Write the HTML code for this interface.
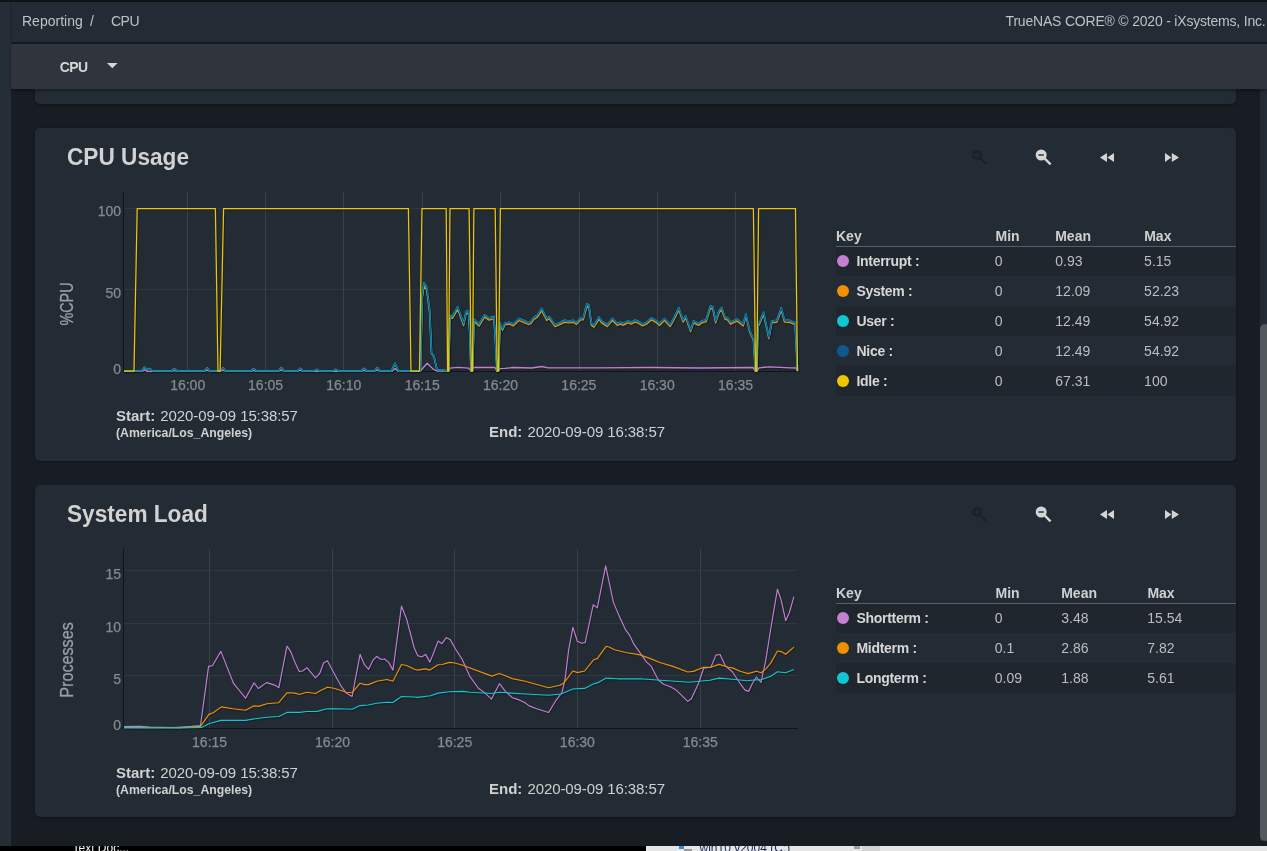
<!DOCTYPE html>
<html><head><meta charset="utf-8"><title>Reporting / CPU</title>
<style>
*{box-sizing:border-box;margin:0;padding:0}
html,body{width:1267px;height:851px;overflow:hidden;background:#181d24;font-family:"Liberation Sans",sans-serif;position:relative}
.abs{position:absolute}
#topk{position:absolute;left:0;top:0;width:1267px;height:2px;background:#111214}
#side{position:absolute;left:0;top:2px;width:10.5px;height:849px;background:#252e36}
#sidel{position:absolute;left:10px;top:2px;width:2px;height:40px;background:#1f262e;z-index:3}
#hdr{position:absolute;left:11px;top:2px;width:1256px;height:40px;background:#232b34}
#hdrl{position:absolute;left:11px;top:42px;width:1256px;height:2px;background:#141a21}
#tb{position:absolute;left:11px;top:44px;width:1256px;height:45px;background:#30343c;box-shadow:0 2px 3px rgba(0,0,0,.35);z-index:2}
.bc{position:absolute;top:10.6px;font-size:14px;color:#bfc1c4;white-space:nowrap}
.card{position:absolute;left:35px;width:1201px;background:#232c35;border-radius:5px;box-shadow:0 1px 3px rgba(0,0,0,.35)}
.title{position:absolute;left:67.4px;font-size:23.5px;transform:scaleX(0.963);transform-origin:0 0;font-weight:bold;color:#d2d2d2;white-space:nowrap}
.yl{position:absolute;font-size:14px;color:#868a8f;-webkit-text-stroke:0.25px #868a8f;text-align:right;white-space:nowrap;line-height:16px}
.xl{position:absolute;font-size:14px;color:#868a8f;-webkit-text-stroke:0.25px #868a8f;width:60px;text-align:center;white-space:nowrap;line-height:16px}
.yax{position:absolute;left:66.8px;width:0;height:0}
.yax span{position:absolute;left:0;top:0;font-size:17.5px;line-height:18px;color:#9a9ea3;-webkit-text-stroke:0.3px #9a9ea3;white-space:nowrap;transform:translate(-50%,-50%) rotate(-90deg) scaleX(0.925)}
.se{position:absolute;font-size:15px;color:#d0d0d0;white-space:nowrap;line-height:18px}
.se b{margin-right:1px}
.dt{letter-spacing:-0.1px}
.tz{position:absolute;font-size:12.25px;font-weight:bold;color:#d0d0d0;white-space:nowrap;line-height:16px}
.tbl{position:absolute;left:836px;width:400px;height:200px}
.th{position:absolute;top:10px;font-size:14px;font-weight:bold;color:#d0d0d0;line-height:16px}
.hline{position:absolute;left:0;top:28px;width:400px;height:1px;background:#575e66;z-index:1}
.row{position:absolute;left:0;width:400px;height:30px}
.dot{position:absolute;left:1px;top:8.5px;width:12px;height:12px;border-radius:50%}
.rn{position:absolute;left:20.5px;top:6.6px;letter-spacing:-0.3px;font-size:14px;font-weight:bold;color:#d6d6d6;line-height:16px;white-space:nowrap}
.v{position:absolute;top:7.1px;margin-left:-0.7px;font-size:14px;color:#bdbdbd;line-height:16px;white-space:nowrap}
#sbt{position:absolute;left:1260px;top:89px;width:7px;height:752px;background:#232b34}
#sbth{position:absolute;left:1260px;top:324px;width:10px;height:517px;background:#54595e;border-radius:5px}
#task{position:absolute;left:0;top:846px;width:1267px;height:5px;background:#000;overflow:hidden}
</style></head>
<body>
<div id="topk"></div>
<div id="side"></div>
<div id="sidel"></div>
<div id="hdr">
 <div class="bc" style="left:11px">Reporting</div><div class="bc" style="left:79px">/</div><div class="bc" style="left:100px;letter-spacing:-0.5px">CPU</div>
 <div class="bc" style="right:1.5px;letter-spacing:-0.2px">TrueNAS CORE® © 2020 - iXsystems, Inc.</div>
</div>
<div id="hdrl"></div>
<div id="tb">
 <div style="position:absolute;left:48.8px;top:14.7px;font-size:14px;font-weight:bold;color:#d6d6d6;letter-spacing:-0.6px">CPU</div>
 <svg style="position:absolute;left:96px;top:19px" width="11" height="6"><polygon points="0,0 10.6,0 5.3,5.3" fill="#d6d6d6"/></svg>
</div>
<div class="card" style="top:60px;height:44px"></div>
<div class="card" style="top:128px;height:333px"></div>
<div class="card" style="top:485px;height:332px"></div>
<svg class="chart" width="1267" height="851" viewBox="0 0 1267 851" style="position:absolute;left:0;top:0">
<line x1="124" y1="208.5" x2="797.5" y2="208.5" stroke="#2f373f" stroke-width="1"/>
<line x1="124" y1="289.5" x2="797.5" y2="289.5" stroke="#2f373f" stroke-width="1"/>
<line x1="187.5" y1="192" x2="187.5" y2="371.5" stroke="#3a4149" stroke-width="1"/>
<line x1="265.5" y1="192" x2="265.5" y2="371.5" stroke="#3a4149" stroke-width="1"/>
<line x1="343.5" y1="192" x2="343.5" y2="371.5" stroke="#3a4149" stroke-width="1"/>
<line x1="422.5" y1="192" x2="422.5" y2="371.5" stroke="#3a4149" stroke-width="1"/>
<line x1="500.5" y1="192" x2="500.5" y2="371.5" stroke="#3a4149" stroke-width="1"/>
<line x1="579.5" y1="192" x2="579.5" y2="371.5" stroke="#3a4149" stroke-width="1"/>
<line x1="657.5" y1="192" x2="657.5" y2="371.5" stroke="#3a4149" stroke-width="1"/>
<line x1="735.5" y1="192" x2="735.5" y2="371.5" stroke="#3a4149" stroke-width="1"/>
<line x1="123.5" y1="192" x2="123.5" y2="372" stroke="#101317" stroke-width="1"/>
<line x1="123" y1="371.5" x2="797.5" y2="371.5" stroke="#101317" stroke-width="1"/>
<polyline fill="none" stroke="#141a24" stroke-opacity="0.6" stroke-width="1.9" stroke-linejoin="round" transform="translate(0.8,1.1)" points="124.0,371.3 141.6,371.3 144.6,369.9 147.6,371.3 171.3,371.3 174.3,370.4 177.3,371.3 204.1,371.3 207.1,370.1 210.1,371.3 219.9,371.3 222.9,370.1 225.9,371.3 250.8,371.3 253.8,370.4 256.8,371.3 278.4,371.3 281.4,370.0 284.4,371.3 297.3,371.3 300.3,370.2 303.3,371.3 361.0,371.3 364.0,370.3 367.0,371.3 374.3,371.3 377.3,370.0 380.3,371.3 392.0,371.3 395.0,368.5 398.0,371.3 420.4,371.0 427.2,363.2 433.4,369.4 437.0,371.0 448.6,371.0 450.0,368.1 458.0,367.3 468.6,368.1 471.0,371.2 473.5,367.5 495.0,367.5 497.0,371.2 500.0,368.7 505.0,368.4 512.6,367.5 531.6,368.0 541.7,366.5 548.0,367.8 600.0,367.8 650.0,367.5 700.0,368.0 753.0,367.5 755.5,371.0 757.0,371.0 759.0,367.8 770.0,366.8 790.0,367.8 796.5,368.0 797.5,371.0"/>
<polyline fill="none" stroke="#141a24" stroke-opacity="0.6" stroke-width="1.9500000000000002" stroke-linejoin="round" transform="translate(0.8,1.1)" points="124.0,371.0 141.6,371.0 144.6,367.5 147.2,369.7 149.7,368.7 152.7,371.0 171.3,371.0 174.3,368.9 177.3,371.0 204.1,371.0 207.1,368.1 210.1,371.0 219.9,371.0 222.9,368.1 225.9,371.0 250.8,371.0 253.8,368.8 256.8,371.0 278.4,371.0 281.4,367.8 284.4,371.0 297.3,371.0 300.3,368.4 303.3,371.0 313.7,371.0 316.7,369.6 319.7,371.0 332.7,371.0 335.7,369.6 338.7,371.0 361.0,371.0 364.0,368.6 367.0,371.0 374.3,371.0 377.3,367.7 380.3,371.0 391.5,371.0 395.0,363.6 398.5,371.0 420.4,371.0 422.3,297.6 424.1,286.4 426.6,289.9 428.5,303.6 429.7,313.0 431.5,353.4 434.0,357.0 437.1,370.0 442.0,369.9 446.4,370.6 447.6,371.0 448.6,371.0 450.0,317.8 452.5,318.4 457.8,309.4 463.6,325.5 466.1,313.7 468.6,313.7 469.8,333.2 471.0,371.2 472.5,371.0 474.1,321.4 479.1,326.1 484.6,317.1 489.0,320.1 493.9,318.8 495.5,341.2 497.0,371.2 498.5,371.0 500.0,324.8 502.5,330.2 505.0,324.8 509.5,324.2 513.3,326.0 519.0,320.5 523.4,322.3 528.4,324.5 531.0,323.6 534.0,319.3 537.2,317.5 541.7,310.8 546.7,320.5 549.2,318.7 555.0,326.6 559.3,324.8 564.4,322.3 569.4,322.9 573.2,322.3 576.4,324.5 580.8,319.9 583.3,319.9 586.9,306.6 589.0,307.8 591.5,325.4 594.0,327.2 599.1,319.3 601.6,322.9 607.3,326.6 612.4,320.5 617.4,325.4 620.6,324.2 623.1,325.4 628.2,322.9 631.3,324.2 635.1,322.1 637.6,322.9 642.7,326.0 646.5,324.2 651.5,319.9 656.6,322.9 659.5,325.4 664.5,320.5 670.2,326.6 674.6,318.7 678.8,310.2 683.1,322.1 685.6,318.1 690.7,331.5 693.6,322.9 698.6,325.4 701.8,322.9 706.2,321.8 710.4,308.4 712.9,309.5 715.7,322.9 719.2,312.6 721.7,310.2 725.1,319.3 727.3,319.9 730.8,324.2 737.1,321.1 743.2,326.0 746.0,316.3 749.7,332.0 753.5,340.5 755.4,370.9 756.8,371.0 758.0,326.6 759.8,323.6 763.6,314.4 768.9,338.7 771.8,322.9 776.9,322.3 781.3,310.4 784.5,322.1 790.2,322.6 795.2,324.7 797.5,370.9"/>
<polyline fill="none" stroke="#141a24" stroke-opacity="0.6" stroke-width="2.35" stroke-linejoin="round" transform="translate(0.8,1.1)" points="124.0,371.0 141.6,371.0 144.6,367.4 147.2,369.6 149.7,368.6 152.7,371.0 171.3,371.0 174.3,368.8 177.3,371.0 204.1,371.0 207.1,368.0 210.1,371.0 219.9,371.0 222.9,368.0 225.9,371.0 250.8,371.0 253.8,368.7 256.8,371.0 278.4,371.0 281.4,367.7 284.4,371.0 297.3,371.0 300.3,368.3 303.3,371.0 313.7,371.0 316.7,369.5 319.7,371.0 332.7,371.0 335.7,369.5 338.7,371.0 361.0,371.0 364.0,368.5 367.0,371.0 374.3,371.0 377.3,367.6 380.3,371.0 391.5,371.0 395.0,363.3 398.5,371.0 420.4,371.0 422.3,294.7 424.1,283.0 426.6,286.7 428.5,300.9 429.7,310.7 431.5,352.7 434.0,356.4 437.1,370.0 442.0,369.8 446.4,370.6 447.6,371.0 448.6,371.0 450.0,315.7 452.5,316.3 457.8,307.0 463.6,323.7 466.1,311.4 468.6,311.4 469.8,331.7 471.0,371.2 472.5,371.0 474.1,319.4 479.1,324.3 484.6,315.0 489.0,318.1 493.9,316.7 495.5,340.0 497.0,371.2 498.5,371.0 500.0,323.0 502.5,328.6 505.0,323.0 509.5,322.3 513.3,324.2 519.0,318.5 523.4,320.4 528.4,322.7 531.0,321.7 534.0,317.2 537.2,315.4 541.7,308.4 546.7,318.5 549.2,316.6 555.0,324.8 559.3,323.0 564.4,320.4 569.4,321.0 573.2,320.4 576.4,322.7 580.8,317.9 583.3,317.9 586.9,304.0 589.0,305.3 591.5,323.6 594.0,325.5 599.1,317.2 601.6,321.0 607.3,324.8 612.4,318.5 617.4,323.6 620.6,322.3 623.1,323.6 628.2,321.0 631.3,322.3 635.1,320.2 637.6,321.0 642.7,324.2 646.5,322.3 651.5,317.9 656.6,321.0 659.5,323.6 664.5,318.5 670.2,324.8 674.6,316.6 678.8,307.8 683.1,320.2 685.6,316.0 690.7,329.9 693.6,321.0 698.6,323.6 701.8,321.0 706.2,319.8 710.4,305.9 712.9,307.1 715.7,321.0 719.2,310.3 721.7,307.8 725.1,317.2 727.3,317.9 730.8,322.3 737.1,319.1 743.2,324.2 746.0,314.1 749.7,330.5 753.5,339.3 755.4,370.9 756.8,371.0 758.0,324.8 759.8,321.7 763.6,312.2 768.9,337.4 771.8,321.0 776.9,320.4 781.3,308.0 784.5,320.2 790.2,320.7 795.2,322.9 797.5,370.9"/>
<polyline fill="none" stroke="#141a24" stroke-opacity="0.6" stroke-width="1.75" stroke-linejoin="round" transform="translate(0.8,1.1)" points="124.0,371.0 141.6,371.0 144.6,367.4 147.2,369.6 149.7,368.6 152.7,371.0 171.3,371.0 174.3,368.8 177.3,371.0 204.1,371.0 207.1,368.0 210.1,371.0 219.9,371.0 222.9,368.0 225.9,371.0 250.8,371.0 253.8,368.7 256.8,371.0 278.4,371.0 281.4,367.7 284.4,371.0 297.3,371.0 300.3,368.3 303.3,371.0 313.7,371.0 316.7,369.5 319.7,371.0 332.7,371.0 335.7,369.5 338.7,371.0 361.0,371.0 364.0,368.5 367.0,371.0 374.3,371.0 377.3,367.6 380.3,371.0 391.5,371.0 395.0,363.3 398.5,371.0 420.4,371.0 422.3,294.7 424.1,283.0 426.6,286.7 428.5,300.9 429.7,310.7 431.5,352.7 434.0,356.4 437.1,370.0 442.0,369.8 446.4,370.6 447.6,371.0 448.6,371.0 450.0,315.7 452.5,316.3 457.8,307.0 463.6,323.7 466.1,311.4 468.6,311.4 469.8,331.7 471.0,371.2 472.5,371.0 474.1,319.4 479.1,324.3 484.6,315.0 489.0,318.1 493.9,316.7 495.5,340.0 497.0,371.2 498.5,371.0 500.0,323.0 502.5,328.6 505.0,323.0 509.5,322.3 513.3,324.2 519.0,318.5 523.4,320.4 528.4,322.7 531.0,321.7 534.0,317.2 537.2,315.4 541.7,308.4 546.7,318.5 549.2,316.6 555.0,324.8 559.3,323.0 564.4,320.4 569.4,321.0 573.2,320.4 576.4,322.7 580.8,317.9 583.3,317.9 586.9,304.0 589.0,305.3 591.5,323.6 594.0,325.5 599.1,317.2 601.6,321.0 607.3,324.8 612.4,318.5 617.4,323.6 620.6,322.3 623.1,323.6 628.2,321.0 631.3,322.3 635.1,320.2 637.6,321.0 642.7,324.2 646.5,322.3 651.5,317.9 656.6,321.0 659.5,323.6 664.5,318.5 670.2,324.8 674.6,316.6 678.8,307.8 683.1,320.2 685.6,316.0 690.7,329.9 693.6,321.0 698.6,323.6 701.8,321.0 706.2,319.8 710.4,305.9 712.9,307.1 715.7,321.0 719.2,310.3 721.7,307.8 725.1,317.2 727.3,317.9 730.8,322.3 737.1,319.1 743.2,324.2 746.0,314.1 749.7,330.5 753.5,339.3 755.4,370.9 756.8,371.0 758.0,324.8 759.8,321.7 763.6,312.2 768.9,337.4 771.8,321.0 776.9,320.4 781.3,308.0 784.5,320.2 790.2,320.7 795.2,322.9 797.5,370.9"/>
<polyline fill="none" stroke="#141a24" stroke-opacity="0.6" stroke-width="1.85" stroke-linejoin="round" transform="translate(0.8,1.1)" points="124.0,371.2 134.0,371.2 137.2,208.5 215.4,208.5 218.0,371.2 220.1,371.2 223.6,208.5 408.4,208.5 411.0,371.2 419.5,371.2 422.0,208.5 446.2,208.5 447.6,371.2 448.6,371.2 450.0,208.5 469.1,208.5 471.3,371.2 472.5,371.2 473.9,208.5 495.2,208.5 497.2,371.2 498.5,371.2 500.4,208.5 753.4,208.5 755.6,371.2 756.8,371.2 758.6,208.5 795.5,208.5 797.5,371.2"/>
<polyline fill="none" stroke="#c47fcf" stroke-width="1.3" stroke-linejoin="round" points="124.0,371.3 141.6,371.3 144.6,369.9 147.6,371.3 171.3,371.3 174.3,370.4 177.3,371.3 204.1,371.3 207.1,370.1 210.1,371.3 219.9,371.3 222.9,370.1 225.9,371.3 250.8,371.3 253.8,370.4 256.8,371.3 278.4,371.3 281.4,370.0 284.4,371.3 297.3,371.3 300.3,370.2 303.3,371.3 361.0,371.3 364.0,370.3 367.0,371.3 374.3,371.3 377.3,370.0 380.3,371.3 392.0,371.3 395.0,368.5 398.0,371.3 420.4,371.0 427.2,363.2 433.4,369.4 437.0,371.0 448.6,371.0 450.0,368.1 458.0,367.3 468.6,368.1 471.0,371.2 473.5,367.5 495.0,367.5 497.0,371.2 500.0,368.7 505.0,368.4 512.6,367.5 531.6,368.0 541.7,366.5 548.0,367.8 600.0,367.8 650.0,367.5 700.0,368.0 753.0,367.5 755.5,371.0 757.0,371.0 759.0,367.8 770.0,366.8 790.0,367.8 796.5,368.0 797.5,371.0"/>
<polyline fill="none" stroke="#ef9000" stroke-width="1.35" stroke-linejoin="round" points="124.0,371.0 141.6,371.0 144.6,367.5 147.2,369.7 149.7,368.7 152.7,371.0 171.3,371.0 174.3,368.9 177.3,371.0 204.1,371.0 207.1,368.1 210.1,371.0 219.9,371.0 222.9,368.1 225.9,371.0 250.8,371.0 253.8,368.8 256.8,371.0 278.4,371.0 281.4,367.8 284.4,371.0 297.3,371.0 300.3,368.4 303.3,371.0 313.7,371.0 316.7,369.6 319.7,371.0 332.7,371.0 335.7,369.6 338.7,371.0 361.0,371.0 364.0,368.6 367.0,371.0 374.3,371.0 377.3,367.7 380.3,371.0 391.5,371.0 395.0,363.6 398.5,371.0 420.4,371.0 422.3,297.6 424.1,286.4 426.6,289.9 428.5,303.6 429.7,313.0 431.5,353.4 434.0,357.0 437.1,370.0 442.0,369.9 446.4,370.6 447.6,371.0 448.6,371.0 450.0,317.8 452.5,318.4 457.8,309.4 463.6,325.5 466.1,313.7 468.6,313.7 469.8,333.2 471.0,371.2 472.5,371.0 474.1,321.4 479.1,326.1 484.6,317.1 489.0,320.1 493.9,318.8 495.5,341.2 497.0,371.2 498.5,371.0 500.0,324.8 502.5,330.2 505.0,324.8 509.5,324.2 513.3,326.0 519.0,320.5 523.4,322.3 528.4,324.5 531.0,323.6 534.0,319.3 537.2,317.5 541.7,310.8 546.7,320.5 549.2,318.7 555.0,326.6 559.3,324.8 564.4,322.3 569.4,322.9 573.2,322.3 576.4,324.5 580.8,319.9 583.3,319.9 586.9,306.6 589.0,307.8 591.5,325.4 594.0,327.2 599.1,319.3 601.6,322.9 607.3,326.6 612.4,320.5 617.4,325.4 620.6,324.2 623.1,325.4 628.2,322.9 631.3,324.2 635.1,322.1 637.6,322.9 642.7,326.0 646.5,324.2 651.5,319.9 656.6,322.9 659.5,325.4 664.5,320.5 670.2,326.6 674.6,318.7 678.8,310.2 683.1,322.1 685.6,318.1 690.7,331.5 693.6,322.9 698.6,325.4 701.8,322.9 706.2,321.8 710.4,308.4 712.9,309.5 715.7,322.9 719.2,312.6 721.7,310.2 725.1,319.3 727.3,319.9 730.8,324.2 737.1,321.1 743.2,326.0 746.0,316.3 749.7,332.0 753.5,340.5 755.4,370.9 756.8,371.0 758.0,326.6 759.8,323.6 763.6,314.4 768.9,338.7 771.8,322.9 776.9,322.3 781.3,310.4 784.5,322.1 790.2,322.6 795.2,324.7 797.5,370.9"/>
<polyline fill="none" stroke="#10c6d2" stroke-width="1.75" stroke-linejoin="round" points="124.0,371.0 141.6,371.0 144.6,367.4 147.2,369.6 149.7,368.6 152.7,371.0 171.3,371.0 174.3,368.8 177.3,371.0 204.1,371.0 207.1,368.0 210.1,371.0 219.9,371.0 222.9,368.0 225.9,371.0 250.8,371.0 253.8,368.7 256.8,371.0 278.4,371.0 281.4,367.7 284.4,371.0 297.3,371.0 300.3,368.3 303.3,371.0 313.7,371.0 316.7,369.5 319.7,371.0 332.7,371.0 335.7,369.5 338.7,371.0 361.0,371.0 364.0,368.5 367.0,371.0 374.3,371.0 377.3,367.6 380.3,371.0 391.5,371.0 395.0,363.3 398.5,371.0 420.4,371.0 422.3,294.7 424.1,283.0 426.6,286.7 428.5,300.9 429.7,310.7 431.5,352.7 434.0,356.4 437.1,370.0 442.0,369.8 446.4,370.6 447.6,371.0 448.6,371.0 450.0,315.7 452.5,316.3 457.8,307.0 463.6,323.7 466.1,311.4 468.6,311.4 469.8,331.7 471.0,371.2 472.5,371.0 474.1,319.4 479.1,324.3 484.6,315.0 489.0,318.1 493.9,316.7 495.5,340.0 497.0,371.2 498.5,371.0 500.0,323.0 502.5,328.6 505.0,323.0 509.5,322.3 513.3,324.2 519.0,318.5 523.4,320.4 528.4,322.7 531.0,321.7 534.0,317.2 537.2,315.4 541.7,308.4 546.7,318.5 549.2,316.6 555.0,324.8 559.3,323.0 564.4,320.4 569.4,321.0 573.2,320.4 576.4,322.7 580.8,317.9 583.3,317.9 586.9,304.0 589.0,305.3 591.5,323.6 594.0,325.5 599.1,317.2 601.6,321.0 607.3,324.8 612.4,318.5 617.4,323.6 620.6,322.3 623.1,323.6 628.2,321.0 631.3,322.3 635.1,320.2 637.6,321.0 642.7,324.2 646.5,322.3 651.5,317.9 656.6,321.0 659.5,323.6 664.5,318.5 670.2,324.8 674.6,316.6 678.8,307.8 683.1,320.2 685.6,316.0 690.7,329.9 693.6,321.0 698.6,323.6 701.8,321.0 706.2,319.8 710.4,305.9 712.9,307.1 715.7,321.0 719.2,310.3 721.7,307.8 725.1,317.2 727.3,317.9 730.8,322.3 737.1,319.1 743.2,324.2 746.0,314.1 749.7,330.5 753.5,339.3 755.4,370.9 756.8,371.0 758.0,324.8 759.8,321.7 763.6,312.2 768.9,337.4 771.8,321.0 776.9,320.4 781.3,308.0 784.5,320.2 790.2,320.7 795.2,322.9 797.5,370.9"/>
<polyline fill="none" stroke="#0e5a8e" stroke-width="1.15" stroke-linejoin="round" points="124.0,371.0 141.6,371.0 144.6,367.4 147.2,369.6 149.7,368.6 152.7,371.0 171.3,371.0 174.3,368.8 177.3,371.0 204.1,371.0 207.1,368.0 210.1,371.0 219.9,371.0 222.9,368.0 225.9,371.0 250.8,371.0 253.8,368.7 256.8,371.0 278.4,371.0 281.4,367.7 284.4,371.0 297.3,371.0 300.3,368.3 303.3,371.0 313.7,371.0 316.7,369.5 319.7,371.0 332.7,371.0 335.7,369.5 338.7,371.0 361.0,371.0 364.0,368.5 367.0,371.0 374.3,371.0 377.3,367.6 380.3,371.0 391.5,371.0 395.0,363.3 398.5,371.0 420.4,371.0 422.3,294.7 424.1,283.0 426.6,286.7 428.5,300.9 429.7,310.7 431.5,352.7 434.0,356.4 437.1,370.0 442.0,369.8 446.4,370.6 447.6,371.0 448.6,371.0 450.0,315.7 452.5,316.3 457.8,307.0 463.6,323.7 466.1,311.4 468.6,311.4 469.8,331.7 471.0,371.2 472.5,371.0 474.1,319.4 479.1,324.3 484.6,315.0 489.0,318.1 493.9,316.7 495.5,340.0 497.0,371.2 498.5,371.0 500.0,323.0 502.5,328.6 505.0,323.0 509.5,322.3 513.3,324.2 519.0,318.5 523.4,320.4 528.4,322.7 531.0,321.7 534.0,317.2 537.2,315.4 541.7,308.4 546.7,318.5 549.2,316.6 555.0,324.8 559.3,323.0 564.4,320.4 569.4,321.0 573.2,320.4 576.4,322.7 580.8,317.9 583.3,317.9 586.9,304.0 589.0,305.3 591.5,323.6 594.0,325.5 599.1,317.2 601.6,321.0 607.3,324.8 612.4,318.5 617.4,323.6 620.6,322.3 623.1,323.6 628.2,321.0 631.3,322.3 635.1,320.2 637.6,321.0 642.7,324.2 646.5,322.3 651.5,317.9 656.6,321.0 659.5,323.6 664.5,318.5 670.2,324.8 674.6,316.6 678.8,307.8 683.1,320.2 685.6,316.0 690.7,329.9 693.6,321.0 698.6,323.6 701.8,321.0 706.2,319.8 710.4,305.9 712.9,307.1 715.7,321.0 719.2,310.3 721.7,307.8 725.1,317.2 727.3,317.9 730.8,322.3 737.1,319.1 743.2,324.2 746.0,314.1 749.7,330.5 753.5,339.3 755.4,370.9 756.8,371.0 758.0,324.8 759.8,321.7 763.6,312.2 768.9,337.4 771.8,321.0 776.9,320.4 781.3,308.0 784.5,320.2 790.2,320.7 795.2,322.9 797.5,370.9"/>
<polyline fill="none" stroke="#efc700" stroke-width="1.25" stroke-linejoin="round" points="124.0,371.2 134.0,371.2 137.2,208.5 215.4,208.5 218.0,371.2 220.1,371.2 223.6,208.5 408.4,208.5 411.0,371.2 419.5,371.2 422.0,208.5 446.2,208.5 447.6,371.2 448.6,371.2 450.0,208.5 469.1,208.5 471.3,371.2 472.5,371.2 473.9,208.5 495.2,208.5 497.2,371.2 498.5,371.2 500.4,208.5 753.4,208.5 755.6,371.2 756.8,371.2 758.6,208.5 795.5,208.5 797.5,371.2"/>
</svg>
<svg class="chart" width="1267" height="851" viewBox="0 0 1267 851" style="position:absolute;left:0;top:0">
<line x1="124" y1="570.5" x2="797.5" y2="570.5" stroke="#2f373f" stroke-width="1"/>
<line x1="124" y1="623.5" x2="797.5" y2="623.5" stroke="#2f373f" stroke-width="1"/>
<line x1="124" y1="675.5" x2="797.5" y2="675.5" stroke="#2f373f" stroke-width="1"/>
<line x1="209.5" y1="549" x2="209.5" y2="728.5" stroke="#3a4149" stroke-width="1"/>
<line x1="332.5" y1="549" x2="332.5" y2="728.5" stroke="#3a4149" stroke-width="1"/>
<line x1="454.5" y1="549" x2="454.5" y2="728.5" stroke="#3a4149" stroke-width="1"/>
<line x1="577.5" y1="549" x2="577.5" y2="728.5" stroke="#3a4149" stroke-width="1"/>
<line x1="700.5" y1="549" x2="700.5" y2="728.5" stroke="#3a4149" stroke-width="1"/>
<line x1="123.5" y1="549" x2="123.5" y2="729" stroke="#101317" stroke-width="1"/>
<line x1="123" y1="728.5" x2="797.5" y2="728.5" stroke="#101317" stroke-width="1"/>
<polyline fill="none" stroke="#141a24" stroke-opacity="0.6" stroke-width="1.75" stroke-linejoin="round" transform="translate(0.8,1.1)" points="124.0,726.6 140.0,726.4 150.0,727.0 160.0,727.3 175.0,727.5 191.9,726.4 200.5,725.5 208.6,666.4 212.4,665.8 220.9,651.4 233.7,683.7 245.6,698.2 254.1,682.9 258.4,688.5 266.6,682.6 274.6,685.1 278.9,687.7 287.0,646.2 290.8,651.7 295.0,662.4 299.3,671.5 302.7,671.0 306.9,667.6 315.5,677.8 319.7,673.5 323.6,663.0 327.4,660.7 334.2,673.5 340.2,684.6 346.1,693.1 352.1,696.5 360.1,654.4 364.5,664.7 368.6,669.3 373.1,659.9 376.8,656.5 381.1,659.5 384.5,659.0 388.7,662.4 393.0,670.1 401.5,606.2 406.6,619.0 414.3,648.0 417.7,655.6 421.6,657.0 425.7,654.4 429.9,662.1 433.9,652.2 438.1,641.1 442.0,643.7 446.3,637.7 450.1,639.4 456.0,649.7 462.5,659.9 469.7,676.1 478.2,688.0 485.0,693.1 491.5,699.1 499.5,683.7 505.4,691.4 512.3,697.7 519.1,699.9 525.0,702.8 529.1,705.9 537.3,709.0 548.6,712.5 555.8,700.7 562.0,692.5 565.1,679.2 568.6,650.4 572.9,627.4 577.4,641.2 581.5,643.2 585.2,642.6 593.2,604.8 597.3,607.9 605.7,565.8 613.4,602.1 618.5,614.4 625.7,629.9 629.8,635.6 633.9,644.2 639.0,651.4 646.2,661.7 651.3,666.4 658.5,680.2 663.6,684.3 670.8,687.0 676.0,689.9 687.7,701.4 691.4,698.7 698.6,683.3 703.7,668.3 710.9,667.3 716.0,655.1 720.1,654.5 725.3,665.8 732.5,672.0 740.7,684.3 745.1,690.1 748.6,691.4 752.4,683.5 756.5,677.0 761.0,682.5 765.7,660.9 770.9,628.0 777.5,589.2 781.2,600.1 785.7,620.7 789.4,612.5 793.9,596.6"/>
<polyline fill="none" stroke="#141a24" stroke-opacity="0.6" stroke-width="1.75" stroke-linejoin="round" transform="translate(0.8,1.1)" points="124.0,727.5 180.0,727.7 200.5,726.4 209.0,714.4 213.2,712.7 221.4,706.9 232.8,708.8 245.6,710.3 253.6,705.9 258.7,706.4 266.9,703.7 278.5,702.8 287.0,692.8 290.8,692.8 295.0,693.1 299.3,694.5 306.9,692.3 315.5,693.5 319.7,691.1 327.4,687.2 332.5,688.0 340.2,690.2 346.1,692.3 352.1,692.8 360.1,683.2 364.5,684.6 368.6,684.6 376.8,681.2 387.0,679.5 393.0,681.2 401.5,664.5 406.6,665.5 414.3,669.3 417.7,670.1 425.3,668.9 429.9,670.1 438.1,664.7 442.4,664.5 449.2,662.4 453.5,662.8 462.0,665.0 491.8,676.1 499.5,673.5 512.3,678.6 525.0,681.2 548.6,687.8 559.9,685.3 564.0,682.9 572.9,671.0 577.4,672.6 584.6,671.0 593.8,659.7 597.3,658.6 606.2,646.3 609.7,647.3 614.4,649.8 625.7,652.5 640.0,654.9 650.3,658.6 660.5,662.7 672.9,666.4 687.7,672.0 693.4,671.4 703.7,667.3 710.9,667.3 719.1,664.4 728.4,667.3 732.5,667.9 740.0,671.2 748.2,673.6 756.5,671.2 761.0,672.8 765.7,669.1 770.9,662.9 777.5,651.0 781.2,651.6 785.7,654.3 793.9,647.1"/>
<polyline fill="none" stroke="#141a24" stroke-opacity="0.6" stroke-width="1.75" stroke-linejoin="round" transform="translate(0.8,1.1)" points="124.0,727.9 180.0,728.0 201.3,727.4 209.8,723.5 220.9,720.4 245.6,720.4 255.0,718.7 266.9,717.3 278.9,716.5 287.0,712.4 299.3,712.4 306.9,711.5 317.2,711.4 327.4,708.8 337.6,708.8 352.1,709.3 360.1,705.6 368.3,705.0 376.8,703.3 387.0,702.2 393.0,702.5 401.5,696.5 414.3,697.0 417.7,697.4 430.5,695.7 438.1,693.1 449.2,691.8 462.8,691.4 469.7,692.3 491.8,693.5 499.5,692.3 525.0,694.0 548.6,695.2 561.0,694.0 572.9,689.0 584.6,688.4 593.8,683.7 597.3,682.9 606.2,678.1 617.5,678.8 640.0,678.8 660.5,680.2 689.3,682.3 699.6,681.2 709.9,680.2 719.1,678.1 732.5,679.2 746.8,680.8 756.5,679.8 761.0,679.8 770.9,676.3 777.5,671.8 781.2,672.2 785.7,672.8 793.9,669.5"/>
<polyline fill="none" stroke="#c47fcf" stroke-width="1.15" stroke-linejoin="round" points="124.0,726.6 140.0,726.4 150.0,727.0 160.0,727.3 175.0,727.5 191.9,726.4 200.5,725.5 208.6,666.4 212.4,665.8 220.9,651.4 233.7,683.7 245.6,698.2 254.1,682.9 258.4,688.5 266.6,682.6 274.6,685.1 278.9,687.7 287.0,646.2 290.8,651.7 295.0,662.4 299.3,671.5 302.7,671.0 306.9,667.6 315.5,677.8 319.7,673.5 323.6,663.0 327.4,660.7 334.2,673.5 340.2,684.6 346.1,693.1 352.1,696.5 360.1,654.4 364.5,664.7 368.6,669.3 373.1,659.9 376.8,656.5 381.1,659.5 384.5,659.0 388.7,662.4 393.0,670.1 401.5,606.2 406.6,619.0 414.3,648.0 417.7,655.6 421.6,657.0 425.7,654.4 429.9,662.1 433.9,652.2 438.1,641.1 442.0,643.7 446.3,637.7 450.1,639.4 456.0,649.7 462.5,659.9 469.7,676.1 478.2,688.0 485.0,693.1 491.5,699.1 499.5,683.7 505.4,691.4 512.3,697.7 519.1,699.9 525.0,702.8 529.1,705.9 537.3,709.0 548.6,712.5 555.8,700.7 562.0,692.5 565.1,679.2 568.6,650.4 572.9,627.4 577.4,641.2 581.5,643.2 585.2,642.6 593.2,604.8 597.3,607.9 605.7,565.8 613.4,602.1 618.5,614.4 625.7,629.9 629.8,635.6 633.9,644.2 639.0,651.4 646.2,661.7 651.3,666.4 658.5,680.2 663.6,684.3 670.8,687.0 676.0,689.9 687.7,701.4 691.4,698.7 698.6,683.3 703.7,668.3 710.9,667.3 716.0,655.1 720.1,654.5 725.3,665.8 732.5,672.0 740.7,684.3 745.1,690.1 748.6,691.4 752.4,683.5 756.5,677.0 761.0,682.5 765.7,660.9 770.9,628.0 777.5,589.2 781.2,600.1 785.7,620.7 789.4,612.5 793.9,596.6"/>
<polyline fill="none" stroke="#ef9000" stroke-width="1.15" stroke-linejoin="round" points="124.0,727.5 180.0,727.7 200.5,726.4 209.0,714.4 213.2,712.7 221.4,706.9 232.8,708.8 245.6,710.3 253.6,705.9 258.7,706.4 266.9,703.7 278.5,702.8 287.0,692.8 290.8,692.8 295.0,693.1 299.3,694.5 306.9,692.3 315.5,693.5 319.7,691.1 327.4,687.2 332.5,688.0 340.2,690.2 346.1,692.3 352.1,692.8 360.1,683.2 364.5,684.6 368.6,684.6 376.8,681.2 387.0,679.5 393.0,681.2 401.5,664.5 406.6,665.5 414.3,669.3 417.7,670.1 425.3,668.9 429.9,670.1 438.1,664.7 442.4,664.5 449.2,662.4 453.5,662.8 462.0,665.0 491.8,676.1 499.5,673.5 512.3,678.6 525.0,681.2 548.6,687.8 559.9,685.3 564.0,682.9 572.9,671.0 577.4,672.6 584.6,671.0 593.8,659.7 597.3,658.6 606.2,646.3 609.7,647.3 614.4,649.8 625.7,652.5 640.0,654.9 650.3,658.6 660.5,662.7 672.9,666.4 687.7,672.0 693.4,671.4 703.7,667.3 710.9,667.3 719.1,664.4 728.4,667.3 732.5,667.9 740.0,671.2 748.2,673.6 756.5,671.2 761.0,672.8 765.7,669.1 770.9,662.9 777.5,651.0 781.2,651.6 785.7,654.3 793.9,647.1"/>
<polyline fill="none" stroke="#10c6d2" stroke-width="1.15" stroke-linejoin="round" points="124.0,727.9 180.0,728.0 201.3,727.4 209.8,723.5 220.9,720.4 245.6,720.4 255.0,718.7 266.9,717.3 278.9,716.5 287.0,712.4 299.3,712.4 306.9,711.5 317.2,711.4 327.4,708.8 337.6,708.8 352.1,709.3 360.1,705.6 368.3,705.0 376.8,703.3 387.0,702.2 393.0,702.5 401.5,696.5 414.3,697.0 417.7,697.4 430.5,695.7 438.1,693.1 449.2,691.8 462.8,691.4 469.7,692.3 491.8,693.5 499.5,692.3 525.0,694.0 548.6,695.2 561.0,694.0 572.9,689.0 584.6,688.4 593.8,683.7 597.3,682.9 606.2,678.1 617.5,678.8 640.0,678.8 660.5,680.2 689.3,682.3 699.6,681.2 709.9,680.2 719.1,678.1 732.5,679.2 746.8,680.8 756.5,679.8 761.0,679.8 770.9,676.3 777.5,671.8 781.2,672.2 785.7,672.8 793.9,669.5"/>
</svg>
<div class="title" style="top:144px">CPU Usage</div>
<svg class="ic" width="1267" height="40" viewBox="0 137 1267 40" style="position:absolute;left:0;top:137px">
<g fill="#1c2128"><circle cx="977.1" cy="155" r="5.1"/><path d="M980.4 158.3 L986.2 164.1" stroke="#1c2128" stroke-width="2"/></g>
<g fill="#232c35"><rect x="974.1" y="154.25" width="6" height="1.5"/><rect x="976.35" y="152" width="1.5" height="6"/></g>
<g fill="#d6d6d6"><circle cx="1041.2" cy="155" r="5.5"/><path d="M1044.8 158.6 L1050.6 164.4" stroke="#d6d6d6" stroke-width="2.3"/></g>
<rect x="1038.4" y="154.2" width="5.4" height="1.6" fill="#3a3f45"/>
<g fill="#d4d4d4"><polygon points="1107,152.9 1107,162 1100,157.5"/><polygon points="1114,152.9 1114,162 1107.4,157.5"/>
<polygon points="1165,152.9 1165,162 1171.4,157.5"/><polygon points="1171.8,152.9 1171.8,162 1179,157.5"/></g>
</svg>
<div class="yl" style="top:203.3px;right:1146px">100</div>
<div class="yl" style="top:285.4px;right:1146px">50</div>
<div class="yl" style="top:360.6px;right:1146px">0</div>
<div class="xl" style="top:377px;left:157.7px">16:00</div>
<div class="xl" style="top:377px;left:235.60000000000002px">16:05</div>
<div class="xl" style="top:377px;left:313.8px">16:10</div>
<div class="xl" style="top:377px;left:392.2px">16:15</div>
<div class="xl" style="top:377px;left:470.5px">16:20</div>
<div class="xl" style="top:377px;left:548.9px">16:25</div>
<div class="xl" style="top:377px;left:627.2px">16:30</div>
<div class="xl" style="top:377px;left:705.6px">16:35</div>
<div class="yax" style="top:303.6px"><span style="transform:translate(-50%,-50%) rotate(-90deg) scaleX(0.82)">%CPU</span></div>
<div class="se" style="left:116px;top:406.5px"><b>Start:</b> <span class="dt">2020-09-09 15:38:57</span></div>
<div class="tz" style="left:116px;top:425.2px">(America/Los_Angeles)</div>
<div class="se" style="left:489px;top:422.5px"><b>End:</b> <span class="dt">2020-09-09 16:38:57</span></div>
<div class="tbl" style="top:218px">
<div class="th" style="left:0">Key</div><div class="th" style="left:159.5px">Min</div><div class="th" style="left:219.20000000000005px">Mean</div><div class="th" style="left:308.19999999999993px">Max</div>
<div class="hline"></div>
<div class="row" style="top:28px;background:#1f262e"><span class="dot" style="background:#c47fcf"></span><span class="rn">Interrupt :</span><span class="v" style="left:159.5px">0</span><span class="v" style="left:220px">0.93</span><span class="v" style="left:308.79999999999995px">5.15</span></div>
<div class="row" style="top:58px;background:transparent"><span class="dot" style="background:#ef9000"></span><span class="rn">System :</span><span class="v" style="left:159.5px">0</span><span class="v" style="left:220px">12.09</span><span class="v" style="left:308.79999999999995px">52.23</span></div>
<div class="row" style="top:88px;background:#1f262e"><span class="dot" style="background:#10c6d2"></span><span class="rn">User :</span><span class="v" style="left:159.5px">0</span><span class="v" style="left:220px">12.49</span><span class="v" style="left:308.79999999999995px">54.92</span></div>
<div class="row" style="top:118px;background:transparent"><span class="dot" style="background:#0e5a8e"></span><span class="rn">Nice :</span><span class="v" style="left:159.5px">0</span><span class="v" style="left:220px">12.49</span><span class="v" style="left:308.79999999999995px">54.92</span></div>
<div class="row" style="top:148px;background:#1f262e"><span class="dot" style="background:#efc700"></span><span class="rn">Idle :</span><span class="v" style="left:159.5px">0</span><span class="v" style="left:220px">67.31</span><span class="v" style="left:308.79999999999995px">100</span></div>
</div>
<div class="title" style="top:501px">System Load</div>
<svg class="ic" width="1267" height="40" viewBox="0 494 1267 40" style="position:absolute;left:0;top:494px">
<g fill="#1c2128"><circle cx="977.1" cy="512" r="5.1"/><path d="M980.4 515.3 L986.2 521.1" stroke="#1c2128" stroke-width="2"/></g>
<g fill="#232c35"><rect x="974.1" y="511.25" width="6" height="1.5"/><rect x="976.35" y="509" width="1.5" height="6"/></g>
<g fill="#d6d6d6"><circle cx="1041.2" cy="512" r="5.5"/><path d="M1044.8 515.6 L1050.6 521.4" stroke="#d6d6d6" stroke-width="2.3"/></g>
<rect x="1038.4" y="511.2" width="5.4" height="1.6" fill="#3a3f45"/>
<g fill="#d4d4d4"><polygon points="1107,509.9 1107,519 1100,514.5"/><polygon points="1114,509.9 1114,519 1107.4,514.5"/>
<polygon points="1165,509.9 1165,519 1171.4,514.5"/><polygon points="1171.8,509.9 1171.8,519 1179,514.5"/></g>
</svg>
<div class="yl" style="top:566.3px;right:1146px">15</div>
<div class="yl" style="top:619.3px;right:1146px">10</div>
<div class="yl" style="top:671.3px;right:1146px">5</div>
<div class="yl" style="top:717.4px;right:1146px">0</div>
<div class="xl" style="top:734px;left:179.6px">16:15</div>
<div class="xl" style="top:734px;left:302.5px">16:20</div>
<div class="xl" style="top:734px;left:424.7px">16:25</div>
<div class="xl" style="top:734px;left:547.4px">16:30</div>
<div class="xl" style="top:734px;left:670.3px">16:35</div>
<div class="yax" style="top:660px"><span style="">Processes</span></div>
<div class="se" style="left:116px;top:763.5px"><b>Start:</b> <span class="dt">2020-09-09 15:38:57</span></div>
<div class="tz" style="left:116px;top:782.2px">(America/Los_Angeles)</div>
<div class="se" style="left:489px;top:779.5px"><b>End:</b> <span class="dt">2020-09-09 16:38:57</span></div>
<div class="tbl" style="top:575px">
<div class="th" style="left:0">Key</div><div class="th" style="left:159.5px">Min</div><div class="th" style="left:225.20000000000005px">Mean</div><div class="th" style="left:311.4px">Max</div>
<div class="hline"></div>
<div class="row" style="top:28px;background:#1f262e"><span class="dot" style="background:#c47fcf"></span><span class="rn">Shortterm :</span><span class="v" style="left:159.5px">0</span><span class="v" style="left:226px">3.48</span><span class="v" style="left:312px">15.54</span></div>
<div class="row" style="top:58px;background:transparent"><span class="dot" style="background:#ef9000"></span><span class="rn">Midterm :</span><span class="v" style="left:159.5px">0.1</span><span class="v" style="left:226px">2.86</span><span class="v" style="left:312px">7.82</span></div>
<div class="row" style="top:88px;background:#1f262e"><span class="dot" style="background:#10c6d2"></span><span class="rn">Longterm :</span><span class="v" style="left:159.5px">0.09</span><span class="v" style="left:226px">1.88</span><span class="v" style="left:312px">5.61</span></div>
</div>
<div id="sbt"></div>
<div id="sbth"></div>
<div id="task">
 <div style="position:absolute;left:645.5px;top:0;width:622px;height:5px;background:#e6e6e6"></div>
 <div style="position:absolute;left:862px;top:0;width:18px;height:5px;background:#d2d2d2"></div>
 <div style="position:absolute;left:678.5px;top:0;width:5px;height:3px;background:#2e8fd6"></div>
 <div style="position:absolute;left:683.5px;top:2.5px;width:8.5px;height:2.5px;background:#9a9a9a"></div>
 <div style="position:absolute;left:854px;top:0;width:6px;height:3px;background:#a0a0a0"></div>
 <div style="position:absolute;left:72.5px;top:-5.5px;font-size:12px;color:#f2f2f2;line-height:14px;white-space:nowrap">Text Doc...</div>
 <div style="position:absolute;left:699.5px;top:-5.5px;font-size:12px;color:#1b2a55;line-height:14px;white-space:nowrap">win10 v2004 (C:)</div>
</div>
</body></html>
